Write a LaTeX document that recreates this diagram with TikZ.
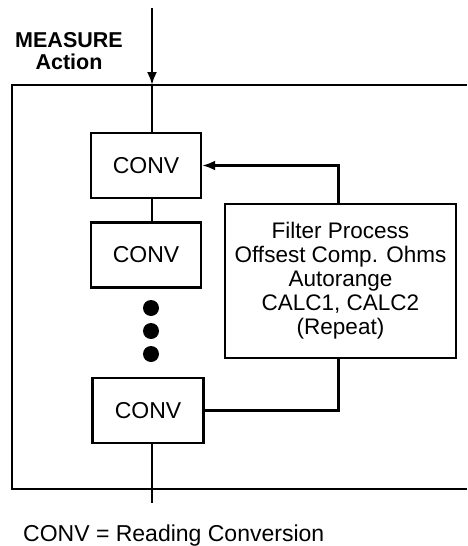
\documentclass[tikz,border=0pt]{standalone}
\usepackage{fontspec}
\setmainfont{Liberation Sans}
\usetikzlibrary{arrows.meta,positioning}

\tikzset{
    convbox/.style={draw, line width=2.4pt, inner sep=0pt, minimum width=110pt, minimum height=65pt, font=\fontsize{23}{24}\selectfont},
    procbox/.style={draw, line width=2.4pt, inner sep=0pt, align=center, minimum width=231pt, minimum height=154pt, font=\fontsize{22.5}{24}\selectfont},
    dot/.style={circle, fill, inner sep=0pt, minimum size=16pt},
    link/.style={line width=2.4pt},
    arr/.style={line width=2.4pt, -{Latex[length=13pt,width=10pt]}}
}

\begin{document}
\begin{tikzpicture}[x=1pt, y=-1pt, node distance=89.5pt]
    \useasboundingbox (0,0) rectangle (467,546);
    % frame
    \coordinate (in) at (152,8);
    \coordinate (entry) at (152,85);
    \coordinate (out) at (152,503);
    \draw[link] (467,85) -- (12,85) -- (12,489) -- (467,489);
    % nodes
    \node[align=center, inner sep=0pt, font=\bfseries\fontsize{21.5}{22}\selectfont] (measure) at (69,51.5) {MEASURE\\Action};
    \node[convbox] (conv1) at (146,165.5) {CONV};
    \node[convbox] (conv2) [below of=conv1] {CONV};
    \node[convbox, minimum width=111pt] (conv3) [below of=conv2, xshift=2pt, yshift=-66pt] {CONV};
    \node[dot] (dot1) at (151,308) {};
    \node[dot] (dot2) at (151,331) {};
    \node[dot] (dot3) at (151,354) {};
    \node[procbox] (filter) [right of=conv2, xshift=105pt, yshift=-26pt] {Filter Process\\Offsest Comp. Ohms\\Autorange\\CALC1, CALC2\\(Repeat)};
    \node[anchor=base west, inner sep=0pt, font=\fontsize{23}{24}\selectfont] (legend) at (23,541) {CONV = Reading Conversion};
    % connectors
    \draw[arr] (in) -- (entry);
    \draw[link] (entry) -- (entry |- conv1.north);
    \draw[link] (entry |- conv1.south) -- (entry |- conv2.north);
    \draw[link] (entry |- conv3.south) -- (out);
    \draw[link] (conv3.east) -| ([xshift=-2pt]filter.south);
    \draw[arr] ([xshift=-2pt]filter.north) |- (conv1.east);
\end{tikzpicture}
\end{document}
